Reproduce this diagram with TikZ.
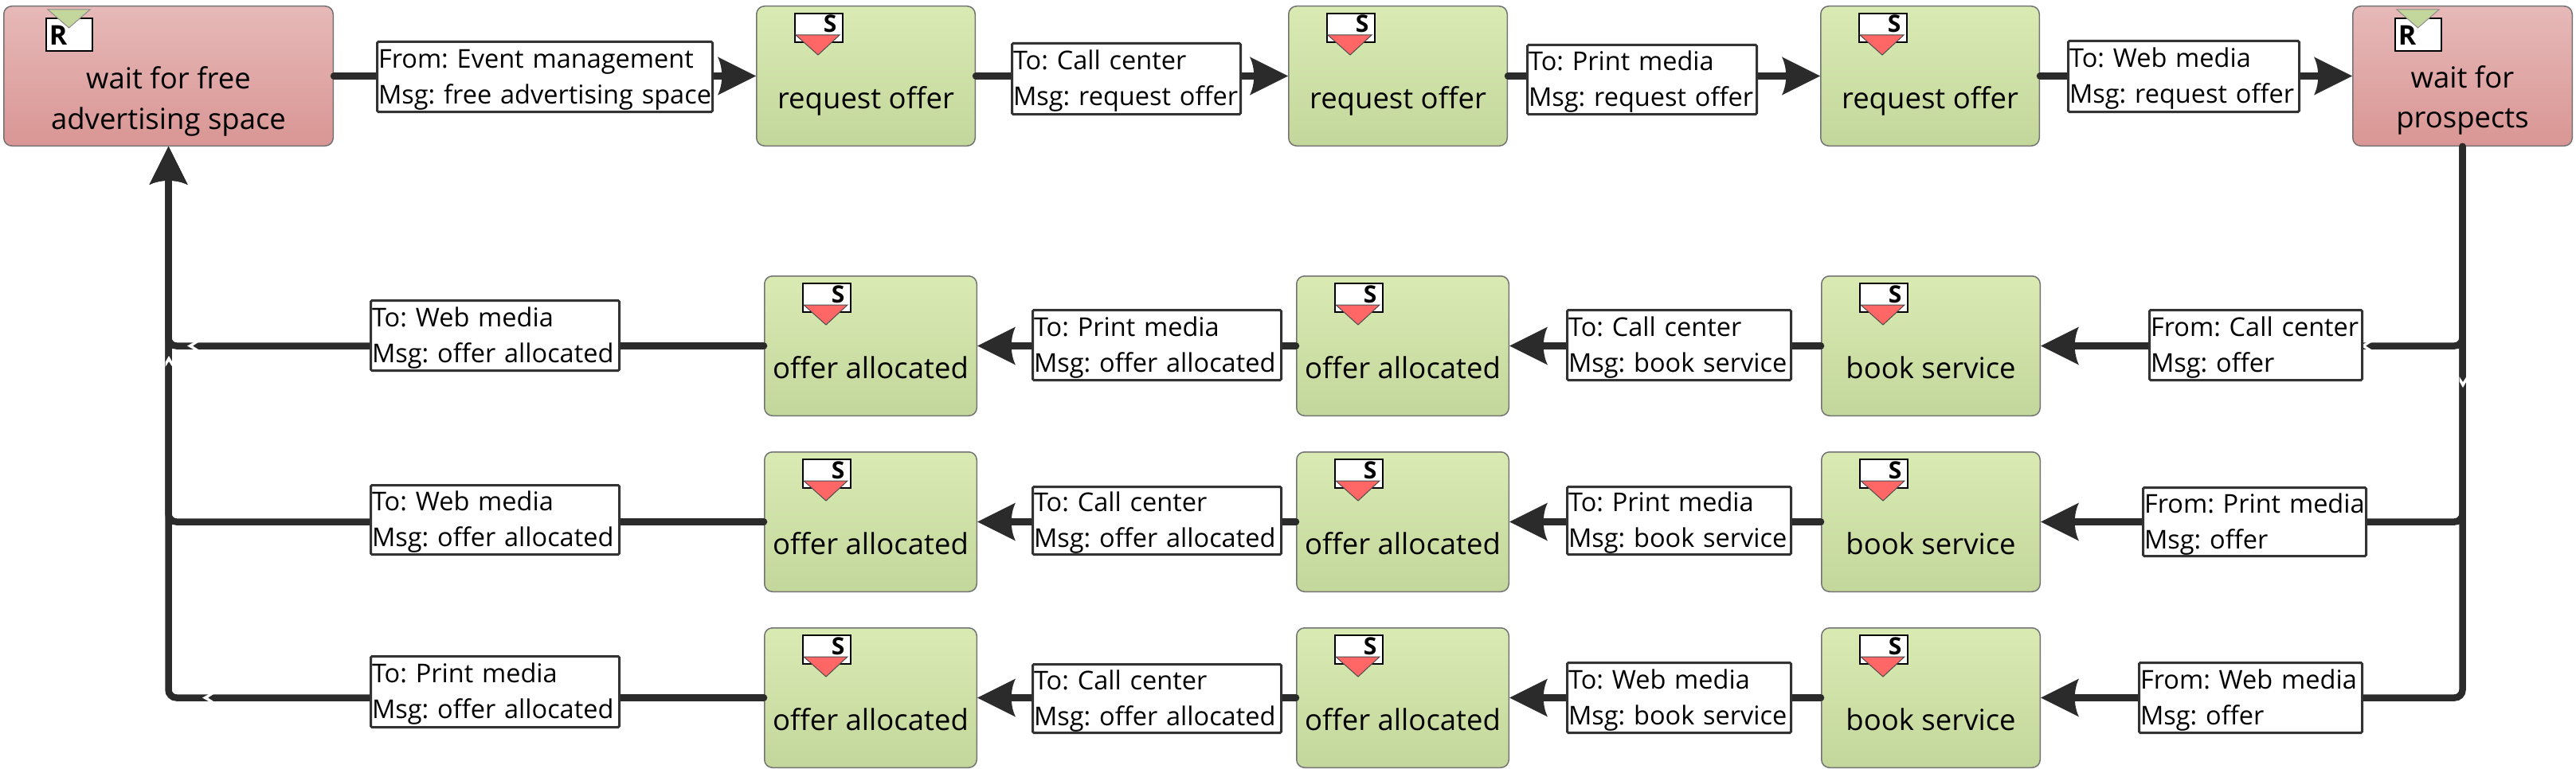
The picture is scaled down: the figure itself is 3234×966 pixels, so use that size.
\documentclass[tikz,border=0pt]{standalone}
\usepackage{fontspec}
\setmainfont{Open Sans}
\usetikzlibrary{calc}
\definecolor{flowc}{HTML}{2B2B2B}
\definecolor{greentop}{HTML}{D9EBB3}
\definecolor{greenbot}{HTML}{C3D69B}
\definecolor{redtop}{HTML}{E6B9B8}
\definecolor{redbot}{HTML}{D99694}
\definecolor{sendtri}{HTML}{FF6666}
\definecolor{recvtri}{HTML}{C3D69B}
\pgfdeclarelayer{boxes}
\pgfdeclarelayer{flowlayer}
\pgfsetlayers{boxes,flowlayer,main}
\pgfdeclarearrow{
  name=Rear,
  setup code={\pgfarrowssettipend{0pt}\pgfarrowssetlineend{-42pt}\pgfarrowssetbackend{-48pt}},
  drawing code={
    \pgfpathmoveto{\pgfqpoint{0pt}{0pt}}
    \pgfpathlineto{\pgfqpoint{-48pt}{24pt}}
    \pgfpathcurveto{\pgfqpoint{-41pt}{10pt}}{\pgfqpoint{-41pt}{-10pt}}{\pgfqpoint{-48pt}{-24pt}}
    \pgfpathclose
    \pgfusepathqfill
  }
}
\tikzset{
  base box/.style={rectangle,rounded corners=10pt,draw=black!55,line width=1.5pt,inner sep=0pt,text=black,font=\frenchspacing\fontsize{36.5}{50}\selectfont},
  greenbox/.style={base box,top color=greentop,bottom color=greenbot},
  redbox/.style={base box,top color=redtop,bottom color=redbot},
  msgbox/.style={rectangle,rounded corners=1.5pt,draw=black!80,line width=3pt,fill=white,inner sep=0pt,font=\frenchspacing\fontsize{32.5}{45}\selectfont},
  envbox/.style={rectangle,draw=black,line width=2pt,fill=white,inner sep=0pt,anchor=north west},
  letter/.style={anchor=base,inner sep=0pt,font=\bfseries\fontsize{#1}{#1}\selectfont},
  flow/.style={color=flowc,line width=8.5pt,line cap=round,rounded corners=10pt},
  arrowed/.style={flow,-{Rear}},
  triline/.style={draw=black!70,line width=1pt,line join=miter},
}
% process box: name, x1,y1,x2,y2, style, baseline shift, lines
\newcommand{\procbox}[8]{%
  \begin{pgfonlayer}{boxes}
  \node[#6,minimum width={(#4-#2-1.5)*1pt},minimum height={(#5-#3-1.5)*1pt}] (#1) at ({(#2+#4)/2},{(#3+#5)/2})
    {\smash{\raisebox{-#7pt}{\begin{tabular}[b]{@{}c@{}}#8\end{tabular}}}};
  \end{pgfonlayer}}
% message label: name, x1,y1,x2,y2, line one, line two
\newcommand{\msglabel}[7]{%
  \pgfmathsetlengthmacro{\labw}{#4-#2-6}%
  \node[msgbox,align=left,text width=\labw,minimum width={(#4-#2-3)*1pt},minimum height={(#5-#3-3)*1pt}] (#1) at ({(#2+#4)/2},{(#3+#5)/2})
    {\smash{\raisebox{-33.5pt}{\begin{tabular}[b]{@{}l@{}}#6\\#7\end{tabular}}}};}
\newcommand{\sendicon}[1]{%
  \begin{scope}[shift={(#1.north west)}]
    \node[envbox,minimum width=60pt,minimum height=36pt] (#1-env) at (48,9) {};
    \node[letter=30] (#1-let) at (93,34) {S};
    \filldraw[fill=sendtri,triline] (50,37) -- (105,37) -- (78,62) -- cycle;
  \end{scope}}
\newcommand{\recvicon}[1]{%
  \begin{scope}[shift={(#1.north west)}]
    \node[envbox,minimum width=58pt,minimum height=41pt] (#1-env) at (53,15) {};
    \node[letter=34] (#1-let) at (69,50) {R};
    \filldraw[fill=recvtri,triline,draw=black!45] (56,5) -- (109,5) -- (82.5,28) -- cycle;
  \end{scope}}
\newcommand{\chevH}[2]{\fill[white] (#1,#2) -- (#1+8,#2-4.5) -- (#1+14,#2-4.5) -- (#1+7,#2) -- (#1+14,#2+4.5) -- (#1+8,#2+4.5) -- cycle;}
\newcommand{\chevV}[3]{\fill[white] (#1,#2) -- ({#1-4.5},{#2+8*#3}) -- ({#1-4.5},{#2+14*#3}) -- (#1,{#2+7*#3}) -- ({#1+4.5},{#2+14*#3}) -- ({#1+4.5},{#2+8*#3}) -- cycle;}
\begin{document}
\begin{tikzpicture}[x=1pt,y=-1pt]
\useasboundingbox (0,0) rectangle (3234,966);
% top row
\procbox{r1}{4}{7}{419}{184}{redbox}{66.5}{wait for free\\advertising space}
\procbox{s1}{949}{7}{1225}{184}{greenbox}{40.5}{request offer}
\procbox{s2}{1617}{7}{1893}{184}{greenbox}{40.5}{request offer}
\procbox{s3}{2285}{7}{2561}{184}{greenbox}{40.5}{request offer}
\procbox{r2}{2953}{7}{3230}{184}{redbox}{65.5}{wait for\\prospects}
% row 2
\procbox{a3}{2286}{346}{2562}{523}{greenbox}{40.5}{book service}
\procbox{a2}{1627}{346}{1895}{523}{greenbox}{40.5}{offer allocated}
\procbox{a1}{959}{346}{1227}{523}{greenbox}{40.5}{offer allocated}
% row 3
\procbox{b3}{2286}{567}{2562}{744}{greenbox}{40.5}{book service}
\procbox{b2}{1627}{567}{1895}{744}{greenbox}{40.5}{offer allocated}
\procbox{b1}{959}{567}{1227}{744}{greenbox}{40.5}{offer allocated}
% row 4
\procbox{c3}{2286}{788}{2562}{965}{greenbox}{40.5}{book service}
\procbox{c2}{1627}{788}{1895}{965}{greenbox}{40.5}{offer allocated}
\procbox{c1}{959}{788}{1227}{965}{greenbox}{40.5}{offer allocated}
% icons
\recvicon{r1}\recvicon{r2}
\sendicon{s1}\sendicon{s2}\sendicon{s3}
\sendicon{a1}\sendicon{a2}\sendicon{a3}
\sendicon{b1}\sendicon{b2}\sendicon{b3}
\sendicon{c1}\sendicon{c2}\sendicon{c3}
% labels
\msglabel{l11}{472}{51}{896}{142}{From: Event management}{Msg: free advertising space}
\msglabel{l12}{1269}{53}{1559}{145}{To: Call center}{Msg: request offer}
\msglabel{l13}{1916}{55}{2207}{145}{To: Print media}{Msg: request offer}
\msglabel{l14}{2595}{50}{2888}{142}{To: Web media}{Msg: request offer}
\msglabel{l21}{464}{376}{779}{467}{To: Web media}{Msg: offer allocated}
\msglabel{l22}{1295}{388}{1610}{479}{To: Print media}{Msg: offer allocated}
\msglabel{l23}{1966}{388}{2250}{479}{To: Call center}{Msg: book service}
\msglabel{l24}{2697}{388}{2967}{479}{From: Call center}{Msg: offer}
\msglabel{l31}{464}{608}{779}{698}{To: Web media}{Msg: offer allocated}
\msglabel{l32}{1295}{610}{1610}{698}{To: Call center}{Msg: offer allocated}
\msglabel{l33}{1966}{610}{2250}{698}{To: Print media}{Msg: book service}
\msglabel{l34}{2689}{611}{2972}{700}{From: Print media}{Msg: offer}
\msglabel{l41}{464}{823}{779}{915}{To: Print media}{Msg: offer allocated}
\msglabel{l42}{1295}{833}{1610}{922}{To: Call center}{Msg: offer allocated}
\msglabel{l43}{1966}{831}{2250}{922}{To: Web media}{Msg: book service}
\msglabel{l44}{2684}{831}{2967}{922}{From: Web media}{Msg: offer}
% connectors
\begin{pgfonlayer}{flowlayer}
\draw[flow] (r1.east) -- (l11.center |- r1.east);
\draw[arrowed] (l11.center |- r1.east) -- (s1.west);
\draw[flow] (s1.east) -- (l12.center |- s1.east);
\draw[arrowed] (l12.center |- s1.east) -- (s2.west);
\draw[flow] (s2.east) -- (l13.center |- s2.east);
\draw[arrowed] (l13.center |- s2.east) -- (s3.west);
\draw[flow] (s3.east) -- (l14.center |- s3.east);
\draw[arrowed] (l14.center |- s3.east) -- (r2.west);
% from wait for prospects down to the three rows
\foreach \lb/\bx in {l24/a3,l34/b3,l44/c3}{
  \draw[flow] (r2.south) |- (\lb.center |- \bx.east);
  \draw[arrowed] (\lb.center |- \bx.east) -- (\bx.east);
}
\foreach \la/\fr/\to in {l23/a3/a2,l33/b3/b2,l43/c3/c2}{
  \draw[flow] (\fr.west) -- (\la.center |- \fr.west);
  \draw[arrowed] (\la.center |- \fr.west) -- (\to.east);
}
\foreach \la/\fr/\to in {l22/a2/a1,l32/b2/b1,l42/c2/c1}{
  \draw[flow] (\fr.west) -- (\la.center |- \fr.west);
  \draw[arrowed] (\la.center |- \fr.west) -- (\to.east);
}
\foreach \la/\fr in {l21/a1,l31/b1,l41/c1}{
  \draw[flow] (\fr.west) -- (\la.center |- \fr.west);
  \draw[arrowed] (\la.center |- \fr.west) -| (r1.south);
}
% small white notches on the lines
\chevH{235}{434.5}
\chevH{254}{876.5}
\chevH{2963}{434.5}
\chevV{212}{447}{1}
\chevV{3092}{487}{-1}
\end{pgfonlayer}
\end{tikzpicture}
\end{document}
